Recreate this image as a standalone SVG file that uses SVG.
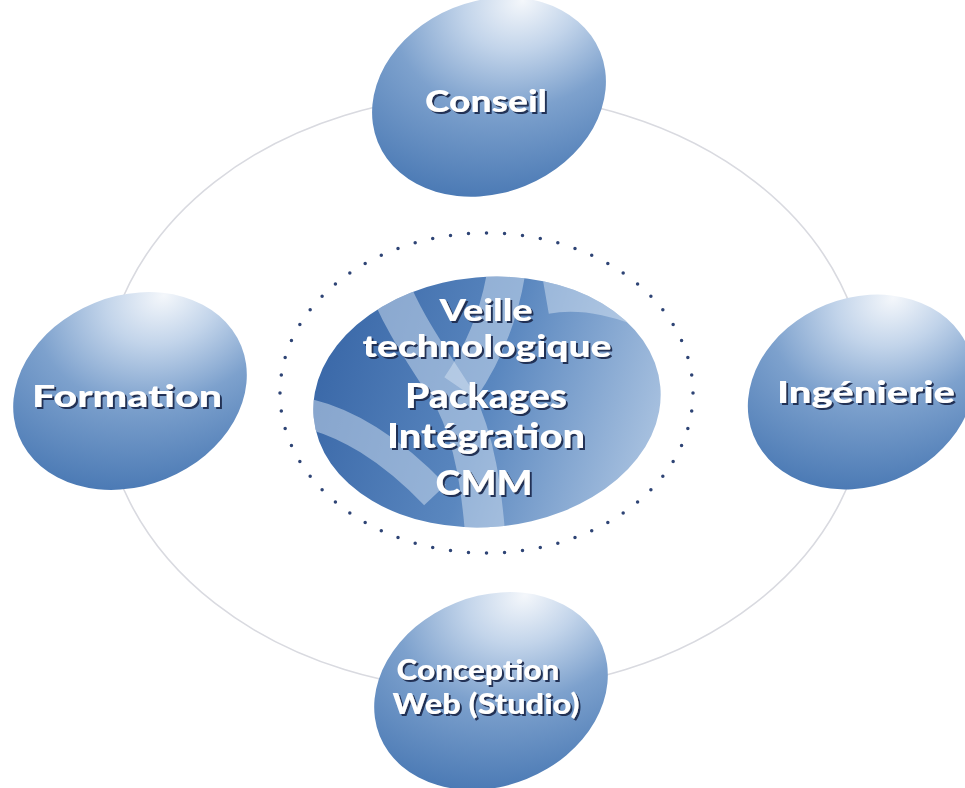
<svg xmlns="http://www.w3.org/2000/svg" width="965" height="788" viewBox="0 0 965 788">
<defs>
<radialGradient id="nodeGrad" cx="0.78" cy="0.1" r="1" fx="0.78" fy="0.1">
<stop offset="0" stop-color="#f4f7fb"/>
<stop offset="0.25" stop-color="#c2d4ea"/>
<stop offset="0.55" stop-color="#7da1cd"/>
<stop offset="1" stop-color="#4a79b4"/>
</radialGradient>
<linearGradient id="coreGrad" x1="0" y1="0.35" x2="1" y2="0.65">
<stop offset="0" stop-color="#3a68a8"/>
<stop offset="0.5" stop-color="#5a87bf"/>
<stop offset="1" stop-color="#a9c2e0"/>
</linearGradient>
<clipPath id="coreClip">
<ellipse cx="487" cy="402" rx="174" ry="125" transform="rotate(-5 487 402)"/>
</clipPath>
<filter id="shadow" x="-10%" y="-20%" width="120%" height="150%">
<feDropShadow dx="2" dy="2" stdDeviation="0.6" flood-color="#1a2a4f" flood-opacity="0.95"/>
</filter>
<style>
.ring{fill:none;stroke:#d9dae0;stroke-width:1.6}
.dots{fill:none;stroke:#2e4475;stroke-width:3.5;stroke-linecap:round;stroke-dasharray:0 1}
.node{fill:url(#nodeGrad)}
.lb{fill:#ffffff;font-family:Lato,"Open Sans","DejaVu Sans",sans-serif;font-weight:900;text-anchor:middle;filter:url(#shadow)}
.band{fill:none;stroke:#d3e1f1;stroke-opacity:0.5}
</style>
</defs>
<rect width="965" height="788" fill="#ffffff"/>
<g id="connectors">
<ellipse class="ring" cx="485" cy="392.5" rx="382" ry="298"/>
</g>
<g id="center">
<ellipse class="dots" cx="486.5" cy="393" rx="206.5" ry="160" pathLength="64"/>
<ellipse cx="487" cy="402" rx="174" ry="125" transform="rotate(-5 487 402)" fill="url(#coreGrad)"/>
<g clip-path="url(#coreClip)">
<path class="band" stroke-width="40" d="M383 270 C400 320 430 360 455 400 C475 440 482 490 486 545"/>
<path class="band" stroke-width="38" d="M508 260 C502 310 486 350 460 388"/>
<path class="band" stroke-width="30" d="M300 412 C345 420 392 450 435 495"/>
<path class="band" stroke-width="44" stroke-opacity="0.32" d="M545 292 C585 285 625 295 675 318"/>
</g>
<text class="lb" x="486" y="321" font-size="31" textLength="93" lengthAdjust="spacingAndGlyphs">Veille</text>
<text class="lb" x="487" y="357" font-size="30" textLength="249" lengthAdjust="spacingAndGlyphs">technologique</text>
<text class="lb" x="486" y="408" font-size="35" textLength="162" lengthAdjust="spacingAndGlyphs">Packages</text>
<text class="lb" x="486" y="448" font-size="35" textLength="198" lengthAdjust="spacingAndGlyphs">Intégration</text>
<text class="lb" x="484" y="495" font-size="35" textLength="97" lengthAdjust="spacingAndGlyphs">CMM</text>
</g>
<g id="conseil">
<ellipse class="node" cx="489" cy="97" rx="120" ry="96" transform="rotate(-22 489 97)"/>
<text class="lb" x="486" y="112" font-size="31" textLength="122" lengthAdjust="spacingAndGlyphs">Conseil</text>
</g>
<g id="formation">
<ellipse class="node" cx="130" cy="391" rx="120" ry="95" transform="rotate(-22 130 391)"/>
<text class="lb" x="127" y="407" font-size="30" textLength="190" lengthAdjust="spacingAndGlyphs">Formation</text>
</g>
<g id="ingenierie">
<ellipse class="node" cx="861" cy="392" rx="116" ry="94" transform="rotate(-22 861 392)"/>
<text class="lb" x="866" y="403" font-size="30" textLength="178" lengthAdjust="spacingAndGlyphs">Ingénierie</text>
</g>
<g id="conception">
<ellipse class="node" cx="491" cy="691" rx="120" ry="95" transform="rotate(-22 491 691)"/>
<text class="lb" x="478" y="680" font-size="28" textLength="163" lengthAdjust="spacingAndGlyphs">Conception</text>
<text class="lb" x="486" y="714" font-size="28" textLength="187" lengthAdjust="spacingAndGlyphs">Web (Studio)</text>
</g>
</svg>
